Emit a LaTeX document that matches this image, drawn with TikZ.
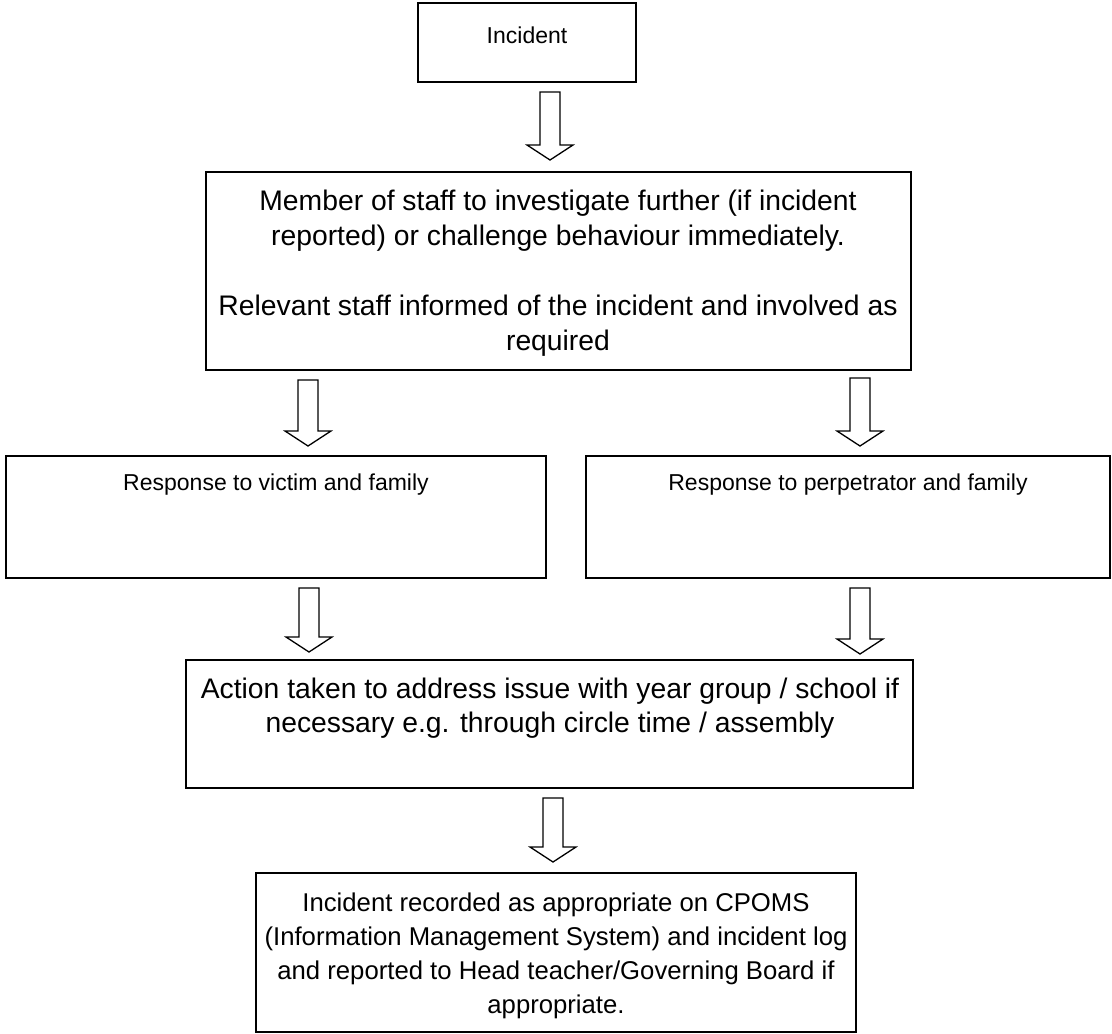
\documentclass[tikz,border=0pt]{standalone}
\usepackage{fontspec}
\setmainfont{Liberation Sans}
\usetikzlibrary{calc}
\newcommand\fontA{\fontsize{23}{34}\selectfont}
\newcommand\fontB{\fontsize{28.3}{35}\selectfont}
\newcommand\fontC{\fontsize{28.3}{34}\selectfont}
\newcommand\fontD{\fontsize{25.7}{34.3}\selectfont}
\tikzset{
  box/.style={draw, line width=1.5pt, inner sep=0pt, outer sep=0pt, anchor=north west},
  txt/.style={inner sep=0pt, outer sep=0pt, align=center, anchor=north},
  barrow/.style={draw, line width=1.3pt, fill=white, line join=miter}
}
\newcommand\blockarrow[2]{%
  \draw[barrow] let \p1=(#1), \p2=(#2) in
    (\x1-10pt,\y1) -- (\x1+10pt,\y1) -- (\x1+10pt,\y2+15pt) -- (\x1+23pt,\y2+15pt)
    -- (\x1,\y2) -- (\x1-23pt,\y2+15pt) -- (\x1-10pt,\y2+15pt) -- cycle;}
\begin{document}
\begin{tikzpicture}[x=1pt,y=-1pt]
\useasboundingbox (0,0) rectangle (1112,1034);
\clip (0,0) rectangle (1112,1034);
% boxes
\node[box, minimum width=218pt, minimum height=79pt] (b1) at (418,3) {};
\node[box, minimum width=705pt, minimum height=198pt] (b2) at (206,172) {};
\node[box, minimum width=540pt, minimum height=122pt] (b3) at (6,456) {};
\node[box, minimum width=524pt, minimum height=122pt] (b4) at (586,456) {};
\node[box, minimum width=727pt, minimum height=128pt] (b5) at (186,660) {};
\node[box, minimum width=600pt, minimum height=159pt] (b6) at (256,873) {};
% texts (north = first baseline - 0.7 baselineskip)
\node[txt, font=\fontA] (t1) at (527,19.2) {\strut Incident};
\node[txt, font=\fontB] (t2) at (558,185.5) {\strut Member of staff to investigate further (if incident\\
reported) or challenge behaviour immediately.\\[35pt]
Relevant staff informed of the incident and involved as\\ required};
\node[txt, font=\fontA] (t3) at (276,466.2) {\strut Response to victim and family};
\node[txt, font=\fontA] (t4) at (848,466.2) {\strut Response to perpetrator and family};
\node[txt, font=\fontC] (t5) at (550,674.2) {\strut Action taken to address issue with year group / school if\\
necessary e.g. through circle time / assembly};
\node[txt, font=\fontD] (t6) at (556,887) {\strut Incident recorded as appropriate on CPOMS\\
(Information Management System) and incident log\\
and reported to Head teacher/Governing Board if\\ appropriate.};
% arrow end points
\coordinate (a1s) at (550,92);  \coordinate (a1e) at (550,160);
\coordinate (a2s) at (308,380); \coordinate (a2e) at (308,446);
\coordinate (a3s) at (860,378); \coordinate (a3e) at (860,446);
\coordinate (a4s) at (309,588); \coordinate (a4e) at (309,652);
\coordinate (a5s) at (860,588); \coordinate (a5e) at (860,654);
\coordinate (a6s) at (553,798); \coordinate (a6e) at (553,862);
\blockarrow{a1s}{a1e}
\blockarrow{a2s}{a2e}
\blockarrow{a3s}{a3e}
\blockarrow{a4s}{a4e}
\blockarrow{a5s}{a5e}
\blockarrow{a6s}{a6e}
\end{tikzpicture}
\end{document}
